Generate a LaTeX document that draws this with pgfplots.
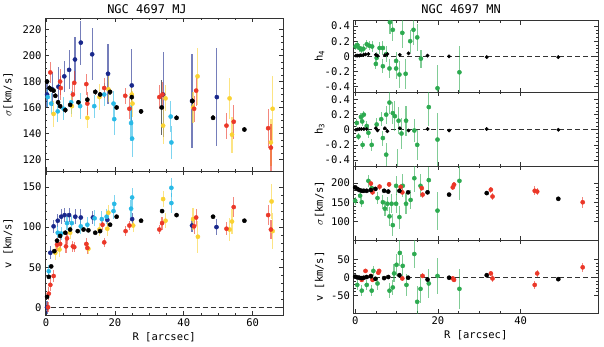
\documentclass[border=0pt]{standalone}
\usepackage{fontspec}
\setmainfont{DejaVu Sans Mono}
\usepackage{pgfplots}
\pgfplotsset{compat=1.18}
\definecolor{cnavy}{RGB}{25,40,140}
\definecolor{cred}{RGB}{235,55,40}
\definecolor{ccyan}{RGB}{40,185,230}
\definecolor{cyel}{RGB}{250,210,50}
\definecolor{cgreen}{RGB}{45,170,80}
\pgfplotsset{
  ser/.style={only marks, mark=*, mark size=2.1pt, color=#1, mark options={draw=#1, fill=#1},
    error bars/.cd, y dir=both, y explicit, error mark=none,
    error bar style={draw=#1, opacity=0.6, line width=1.2pt}, /pgfplots/.cd},
  base/.style={scale only axis, axis line style={line width=0.8pt, black!80},
    tick style={black!80, line width=0.6pt}, major tick length=4pt, minor tick length=2pt,
    tick align=inside, clip=true,
    ticklabel style={font=\fontsize{10.5}{10.5}\selectfont},
    /pgf/number format/assume math mode=true,
    label style={font=\fontsize{10.5}{10.5}\selectfont},
    title style={font=\fontsize{12}{12}\selectfont}},
  lstyle/.style={base, xmin=-0.3, xmax=68.9, width=238.3pt, xtick={0,20,40,60}, minor x tick num=3,
    ylabel style={at={(axis description cs:-0.155,0.5)}, anchor=center}},
  rstyle/.style={base, xmin=-0.4, xmax=58.7, width=244.5pt, xtick={0,20,40}, minor x tick num=3,
    ylabel style={at={(axis description cs:-0.139,0.5)}, anchor=center}},
  zline/.style={black!80, line width=0.7pt, dash pattern=on 5pt off 3pt, forget plot}
}
\begin{document}
\begin{tikzpicture}
\useasboundingbox (0,0) rectangle (604pt,346pt);
% ---------------- left sigma
\begin{axis}[lstyle, at={(45pt,175pt)}, anchor=south west, height=153pt,
  ymin=111, ymax=229, ytick={120,140,160,180,200,220}, minor y tick num=3,
  xticklabels={}, ylabel={$\sigma$[km/s]},
  title={NGC 4697 MJ}, title style={at={(axis description cs:0.428,1)}, yshift=3pt, anchor=center}]
\addplot[ser=cnavy] table[y error index=2]{
0.3 170 10
1.8 174 13
3.6 176 15
5.3 184 12
6.7 189 15
8.4 197 17
10.1 210 17
13.4 201 20
18.0 186 23
24.9 177 28
34.0 170 33
42.4 165 36
49.6 168 38
};
\addplot[ser=ccyan] table[y error index=2]{
0.5 168 8
1.5 163 8
3.4 157 8
5.1 159 9
7.3 164 9
9.9 161 10
14.0 161 9
16.9 170 9
19.6 163 10
19.8 151 12
24.7 148 14
25.0 136 14
36.2 153 12
36.4 133 13
};
\addplot[ser=cyel] table[y error index=2]{
2.2 155 10
7.5 161 8
12.0 152 8
15.5 168 10
18.1 174 10
24.9 170 9
25.1 163 10
34.0 146 14
34.7 167 10
42.7 160 12
44.0 184 22
53.3 167 16
54.0 139 14
65.3 133 18
65.8 159 25
};
\addplot[ser=cred] table[y error index=2]{
1.25 187 8
4.1 180 10
4.3 175 9
7.8 170 8
8.2 179 9
11.7 178 8
12.0 163 9
16.9 175 8
23.0 169 6
24.2 159 8
32.9 168 9
33.8 170 10
43.0 159 10
43.6 173 12
52.4 146 10
54.5 149 13
64.5 144 15
65.3 129 18
};
\addplot[ser=black] table[y error index=2]{
0.3 180 2
1.0 175 2
1.4 174 2
2.2 173 2
2.7 169 2
3.5 164 2
4.1 161 2
5.6 158 2
7.0 162 2
9.4 164 2
12.0 166 2
14.3 172 2
15.7 170 2
18.6 172 2
20.5 160 2
24.9 168 2
27.6 157 2
33.6 160 21
37.9 152 2
42.5 165 2
48.5 152 2
57.6 143 2
};
\end{axis}
% ---------------- left v
\begin{axis}[lstyle, at={(45pt,30.7pt)}, anchor=south west, height=144.3pt,
  ymin=-10, ymax=170, ytick={0,50,100,150}, minor y tick num=4,
  ylabel={v [km/s]}, xlabel={R [arcsec]},
  xlabel style={at={(axis description cs:0.5,0)}, yshift=-21.7pt, anchor=center}]
\addplot[zline] coordinates {(-1,0) (70,0)};
\addplot[ser=cnavy] table[y error index=2]{
0.3 0 8
1.25 68 8
2.2 101 8
3.4 108 8
4.4 113 9
5.4 115 9
6.7 115 9
8.5 113 9
10.1 112 10
13.6 112 8
17.8 109 8
25.0 110 8
42.4 102 8
49.5 100 10
};
\addplot[ser=ccyan] table[y error index=2]{
0.8 45 8
3.4 93 8
4.4 92 8
6.1 105 9
7.5 105 9
10.1 101 10
12.0 103 9
14.1 111 10
16.2 110 10
17.6 113 9
19.6 120 10
19.8 129 11
24.7 123 11
25.0 137 12
36.4 149 12
36.4 130 12
};
\addplot[ser=cyel] table[y error index=2]{
2.7 68 9
3.9 72 9
7.0 93 8
12.3 73 7
15.5 97 8
17.8 98 9
18.1 118 10
25.3 102 8
34.0 135 10
34.7 108 9
42.7 110 14
44.1 88 20
53.3 97 14
54.0 107 15
65.5 132 22
65.8 95 22
};
\addplot[ser=cred] table[y error index=2]{
0.6 0 6
0.8 17 8
1.25 28 8
2.2 39 8
3.2 78 8
4.1 79 8
5.8 76 8
6.1 86 7
7.8 76 7
8.2 75 6
11.7 79 7
12.0 74 7
16.9 81 6
16.4 103 7
23.1 95 6
24.2 102 6
32.9 97 6
33.7 105 8
43.0 101 10
43.6 112 10
52.4 98 8
54.5 125 12
64.5 115 12
65.3 97 12
};
\addplot[ser=black] table[y error index=2]{
0.3 13 2
0.8 38 2
1.5 51 2
2.4 70 2
3.2 83 2
4.1 89 2
5.6 93 2
7.0 97 2
9.2 95 2
10.9 97 2
12.3 96 2
14.3 93 2
15.7 95 2
18.6 103 2
20.5 113 2
27.6 108 2
33.7 120 2
37.9 115 2
48.5 113 2
57.6 108 2
};
\end{axis}
% ---------------- right h4
\begin{axis}[rstyle, at={(353.5pt,254pt)}, anchor=south west, height=71.3pt,
  ymin=-0.47, ymax=0.47, ytick={-0.4,-0.2,0,0.2,0.4}, minor y tick num=3,
  xticklabels={}, ylabel={h\textsubscript{4}},
  title={NGC 4697 MN}, title style={at={(axis description cs:0.44,1)}, yshift=5.7pt, anchor=center}]
\addplot[zline] coordinates {(-1,0) (60,0)};
\addplot[ser=cgreen] table[y error index=2]{
0.1 0.13 0.05
0.5 0.15 0.05
1.0 0.11 0.05
1.5 0.09 0.05
2.0 0.10 0.06
2.8 0.16 0.06
3.4 0.14 0.06
4.1 0.13 0.07
5.0 -0.10 0.07
5.2 -0.02 0.08
5.9 0.11 0.08
6.7 0.11 0.09
6.7 -0.13 0.09
7.5 0.03 0.1
8.3 -0.16 0.12
8.4 0.45 0.15
9.1 0.35 0.15
9.9 -0.06 0.12
9.9 -0.16 0.14
10.7 -0.24 0.18
11.4 0.31 0.2
12.2 -0.23 0.2
13.3 0.20 0.15
14.1 0.35 0.2
15.0 0.25 0.18
15.9 -0.03 0.12
19.9 -0.42 0.3
25.2 -0.21 0.35
};
\addplot[ser=black, mark size=1.7pt] table[y error index=2]{
0.2 0.01 0.005
0.6 0.01 0.005
1.0 0.01 0.005
1.4 0.015 0.005
2.0 0.02 0.005
2.5 0.025 0.005
3.2 0.03 0.005
5.0 0.02 0.005
5.4 0.01 0.005
7.2 0.015 0.005
7.8 0.03 0.005
10.8 0.02 0.005
12.9 0.04 0.005
17.5 0.01 0.005
22.7 0.0 0.005
31.8 -0.01 0.005
49.1 -0.01 0.005
};
\end{axis}
% ---------------- right h3
\begin{axis}[rstyle, at={(353.5pt,180pt)}, anchor=south west, height=74pt,
  ymin=-0.48, ymax=0.5, ytick={-0.4,-0.2,0,0.2,0.4}, minor y tick num=3,
  xticklabels={}, ylabel={h\textsubscript{3}}]
\addplot[zline] coordinates {(-1,0) (60,0)};
\addplot[ser=cgreen] table[y error index=2]{
0.4 0.09 0.05
0.8 -0.09 0.05
1.4 0.17 0.05
1.7 0.11 0.06
2.1 0.20 0.05
1.8 -0.20 0.05
2.8 0.05 0.06
3.2 -0.04 0.07
4.0 -0.20 0.08
5.2 0.07 0.08
6.3 0.14 0.09
6.7 -0.11 0.1
7.5 0.20 0.12
7.5 -0.33 0.15
8.3 0.36 0.15
9.1 0.22 0.15
9.6 0.18 0.2
10.5 0.12 0.18
11.2 -0.05 0.2
12.3 0.12 0.2
14.3 -0.01 0.15
15.0 -0.20 0.2
17.8 0.30 0.25
19.9 -0.13 0.35
10.2 -0.55 0.3
};
\addplot[ser=black, mark size=1.7pt] table[y error index=2]{
0.2 0 0.005
0.6 0.005 0.005
1.0 0.01 0.005
1.5 0.01 0.005
2.1 0.01 0.005
2.8 0.01 0.005
5.0 0.02 0.005
5.4 -0.01 0.005
7.2 0.02 0.005
7.8 -0.02 0.005
10.8 0.02 0.005
12.9 -0.01 0.005
17.5 0.01 0.005
22.7 -0.01 0.005
31.8 0.01 0.005
49.1 0.0 0.005
};
\end{axis}
% ---------------- right sigma
\begin{axis}[rstyle, at={(353.5pt,106pt)}, anchor=south west, height=74pt,
  ymin=51, ymax=245, ytick={100,150,200}, minor y tick num=4,
  xticklabels={}, ylabel={$\sigma$[km/s]}]
\addplot[ser=cgreen] table[y error index=2]{
0.0 154 10
1.2 167 12
1.6 150 12
3.2 206 15
4.0 187 15
5.4 161 15
6.7 150 18
7.2 133 20
7.8 146 18
8.3 113 25
8.8 146 25
9.1 90 28
9.9 193 25
9.9 146 25
10.7 111 30
11.5 193 30
12.3 146 28
13.4 156 25
14.3 213 35
15.8 193 30
17.8 208 35
19.9 128 50
25.2 206 50
};
\addplot[ser=cred] table[y error index=2]{
3.8 199 7
4.2 176 8
5.9 191 8
8.2 197 7
11.0 190 9
11.4 176 8
16.1 187 8
16.3 170 8
23.6 189 8
23.9 196 8
32.8 183 8
33.2 165 9
43.4 180 12
44.0 178 10
55.0 150 15
};
\addplot[ser=black] table[y error index=2]{
0.0 189 2
0.5 185 2
1.0 182 2
1.6 180 2
2.1 180 2
2.8 180 2
3.8 182 2
4.9 185 2
7.0 180 2
8.0 178 2
10.7 180 2
12.8 176 2
17.5 176 2
22.7 170 2
31.8 174 3
49.1 159 2
};
\end{axis}
% ---------------- right v
\begin{axis}[rstyle, at={(353.5pt,32.7pt)}, anchor=south west, height=73.3pt,
  ymin=-100, ymax=104, ytick={-50,0,50}, minor y tick num=4,
  ylabel={v [km/s]}, xlabel={R [arcsec]},
  xlabel style={at={(axis description cs:0.5,0)}, yshift=-21.7pt, anchor=center}]
\addplot[zline] coordinates {(-1,0) (60,0)};
\addplot[ser=cgreen] table[y error index=2]{
0.5 -21 15
1.6 -37 15
2.8 -21 15
4.0 -37 15
4.4 18 15
5.4 -17 18
8.3 -37 20
9.1 -28 20
9.4 11 25
10.0 35 30
10.8 68 35
11.5 32 30
12.4 -21 30
14.3 65 40
15.0 -68 45
15.8 -32 40
17.8 -17 40
19.9 4 50
25.2 -32 55
};
\addplot[ser=cred] table[y error index=2]{
1.6 -7 5
2.5 18 6
3.8 4 6
4.2 -7 6
5.6 13 6
5.8 18 6
11.4 -3 7
16.3 4 7
23.6 -3 7
23.9 -7 6
32.8 11 8
33.2 -3 9
43.4 -21 10
44.0 11 9
55.0 28 12
};
\addplot[ser=black] table[y error index=2]{
0.0 2 2
0.5 0 2
1.0 -1 2
1.6 -2 2
2.1 -1 2
2.8 1 2
3.8 3 2
4.9 -4 2
7.0 -2 2
8.0 1 2
10.7 6 2
12.8 -1 2
17.5 -6 2
22.7 -1 2
31.8 6 2
49.1 -5 2
};
\end{axis}
\end{tikzpicture}
\end{document}
